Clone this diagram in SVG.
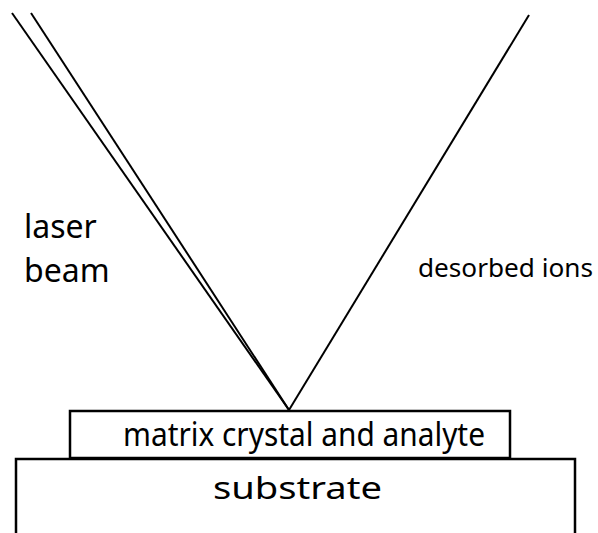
<svg xmlns="http://www.w3.org/2000/svg" width="598" height="533" viewBox="0 0 598 533">
<style>
.ln{stroke:#000;stroke-width:2;fill:none}
.bx{stroke:#000;stroke-width:2.5;fill:#fff}
.t{font-family:"Noto Sans","Open Sans",sans-serif;fill:#000}
</style>
<rect width="598" height="533" fill="#fff"/>
<g id="connectors">
<line class="ln" x1="12" y1="13" x2="289" y2="410"/>
<line class="ln" x1="31" y1="13" x2="289" y2="410"/>
<line class="ln" x1="529" y1="15" x2="289" y2="410"/>
</g>
<g id="substrate">
<path class="bx" d="M16,533 V459 H575 V533"/>
<text class="t" x="213" y="499" font-size="30" textLength="169" lengthAdjust="spacingAndGlyphs">substrate</text>
</g>
<g id="matrix">
<rect class="bx" x="70" y="411" width="440" height="47"/>
<text class="t" x="123" y="446" font-size="33" textLength="362" lengthAdjust="spacingAndGlyphs">matrix crystal and analyte</text>
</g>
<g id="laser-label">
<text class="t" x="24" y="238" font-size="32">laser</text>
<text class="t" x="24" y="282" font-size="32">beam</text>
</g>
<g id="ions-label">
<text class="t" x="418" y="277" font-size="26" textLength="175" lengthAdjust="spacingAndGlyphs">desorbed ions</text>
</g>
</svg>
